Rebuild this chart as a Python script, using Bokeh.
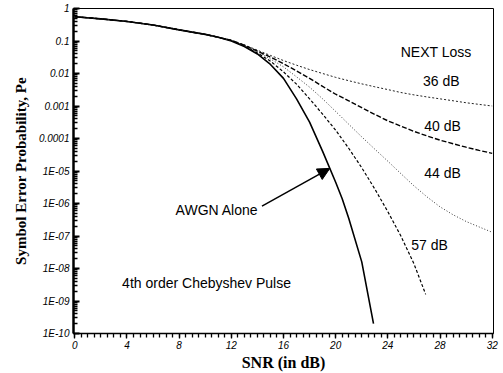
import numpy as np
from bokeh.plotting import figure
from bokeh.models import (Range1d, FixedTicker, SingleIntervalTicker, Arrow, NormalHead,
                          Label, CustomJSTickFormatter)
from bokeh.embed import file_html
from bokeh.resources import INLINE

# ---------------- data ----------------
snr_awgn = [0, 2, 4, 6, 8, 10, 11, 12, 13, 14, 15, 16, 17, 18, 19, 20, 20.5, 21, 22, 22.9]
pe_awgn = [0.56, 0.48, 0.40, 0.31, 0.22, 0.16, 0.13, 0.10, 0.068, 0.040, 0.019, 7.1e-3,
           1.66e-3, 3.2e-4, 4.0e-5, 4.5e-6, 1.4e-6, 3.5e-7, 1.6e-8, 2.0e-10]

snr_next = [0, 2, 4, 6, 8, 10, 11, 12, 13, 14, 15, 16, 17, 18, 19, 20, 21, 22, 23, 24, 25,
            26, 27, 28, 29, 30, 31, 32]
pe_36 = [0.56, 0.48, 0.40, 0.31, 0.22, 0.16, 0.13, 0.105, 0.076, 0.052, 0.036, 0.025, 0.018,
         0.0132, 0.010, 0.0076, 0.0060, 0.0048, 0.0039, 0.0032, 0.0026, 0.0022, 0.0019,
         0.00166, 0.00145, 0.00126, 0.00112, 0.0010]
pe_40 = [0.56, 0.48, 0.40, 0.31, 0.22, 0.16, 0.13, 0.105, 0.074, 0.049, 0.032, 0.020, 0.012,
         0.0071, 0.0040, 0.0023, 1.45e-3, 8.9e-4, 5.5e-4, 3.5e-4, 2.4e-4, 1.66e-4, 1.2e-4,
         8.9e-5, 6.9e-5, 5.4e-5, 4.3e-5, 3.5e-5]
pe_44 = [0.56, 0.48, 0.40, 0.31, 0.22, 0.16, 0.13, 0.105, 0.072, 0.047, 0.028, 0.016, 0.0079,
         0.0038, 0.00166, 6.8e-4, 2.75e-4, 1.12e-4, 4.7e-5, 2.0e-5, 8.3e-6, 3.5e-6, 1.6e-6,
         7.9e-7, 4.5e-7, 2.8e-7, 1.9e-7, 1.3e-7]

snr_57 = [0, 2, 4, 6, 8, 10, 11, 12, 13, 14, 15, 16, 17, 18, 19, 20, 21, 22, 23, 24, 25, 26, 26.9]
pe_57 = [0.56, 0.48, 0.40, 0.31, 0.22, 0.16, 0.13, 0.105, 0.069, 0.043, 0.024, 0.0112, 0.0047,
         0.00166, 5.6e-4, 1.8e-4, 5.0e-5, 1.26e-5, 2.8e-6, 5.6e-7, 1.0e-7, 1.4e-8, 1.6e-9]

y_ticks = [1, 0.1, 0.01, 0.001, 0.0001, 1e-5, 1e-6, 1e-7, 1e-8, 1e-9, 1e-10]
y_tick_labels = ["1", "0.1", "0.01", "0.001", "0.0001", "1E-05", "1E-06", "1E-07",
                 "1E-08", "1E-09", "1E-10"]

next_labels = ["36 dB", "40 dB", "44 dB", "57 dB"]

# ---------------- figure ----------------
p = figure(width=503, height=373, y_axis_type="log",
           x_range=Range1d(-0.1, 32.1), y_range=Range1d(1e-10, 1),
           output_backend="svg", toolbar_location=None,
           min_border_left=73, min_border_right=10, min_border_top=8, min_border_bottom=36,
           background_fill_color="white", border_fill_color="white")
p.xgrid.visible = False
p.ygrid.visible = False
p.outline_line_color = "black"
p.outline_line_width = 1

minor = [m * t for t in y_ticks[1:] for m in range(2, 10)]
p.yaxis.ticker = FixedTicker(ticks=y_ticks, minor_ticks=minor)
p.yaxis.formatter = CustomJSTickFormatter(args=dict(labels=y_tick_labels),
                                          code="return labels[Math.round(-Math.log10(tick))];")
p.xaxis.ticker = SingleIntervalTicker(interval=4, num_minor_ticks=8)

for ax in (p.xaxis[0], p.yaxis[0]):
    ax.major_label_text_font = "Liberation Sans"
    ax.major_label_text_font_style = "italic"
    ax.major_label_text_font_size = "10px"
    ax.major_label_text_color = "black"
    ax.axis_line_color = "black"
    ax.major_tick_line_color = "black"
    ax.minor_tick_line_color = "black"
    ax.axis_label_text_font = "Liberation Serif"
    ax.axis_label_text_font_style = "bold"
    ax.axis_label_text_color = "black"

p.xaxis.major_tick_in = 0
p.xaxis.major_tick_out = 5
p.xaxis.minor_tick_in = 0
p.xaxis.minor_tick_out = 4
p.xaxis.axis_line_width = 1.5
p.xaxis.major_tick_line_width = 1.3
p.xaxis.minor_tick_line_width = 1.3
p.xaxis.major_label_standoff = 2
p.xaxis.axis_label = "SNR (in dB)"
p.xaxis.axis_label_text_font_size = "16px"
p.xaxis.axis_label_standoff = 2

p.yaxis.major_tick_in = 6
p.yaxis.major_tick_out = 0
p.yaxis.minor_tick_in = 4
p.yaxis.minor_tick_out = 0
p.yaxis.axis_line_width = 2.5
p.yaxis.major_tick_line_width = 2
p.yaxis.minor_tick_line_width = 1.5
p.yaxis.major_label_standoff = 4
p.yaxis.axis_label = "Symbol Error Probability, Pe"
p.yaxis.axis_label_text_font_size = "15px"
p.yaxis.axis_label_standoff = 7

# ---------------- curves ----------------
p.line(snr_awgn, pe_awgn, line_color="black", line_width=1.6)
p.line(snr_next, pe_36, line_color="#222222", line_width=1.0, line_dash="2 2")
p.line(snr_next, pe_40, line_color="black", line_width=1.4, line_dash="5 2")
p.line(snr_next, pe_44, line_color="#222222", line_width=0.9, line_dash="1 2")
p.line(snr_57, pe_57, line_color="black", line_width=1.2, line_dash="3 2")

# ---------------- annotations ----------------
font = "Liberation Sans"
def lab(x, y, t, size="14px"):
    p.add_layout(Label(x=x, y=y, text=t, text_align="center", text_baseline="middle",
                       text_font=font, text_font_size=size, text_color="black"))

lab(27.7, 0.0457, "NEXT Loss")
lab(28.1, 5.9e-3, next_labels[0])
lab(28.2, 2.5e-4, next_labels[1])
lab(28.2, 8.5e-6, next_labels[2])
lab(27.2, 5.4e-8, next_labels[3])
lab(10.9, 6.3e-7, "AWGN Alone")
lab(10.1, 3.7e-9, "4th order Chebyshev Pulse")

tip_x = 19.55
tip_y = 10 ** np.interp(tip_x, snr_awgn, np.log10(pe_awgn))
p.add_layout(Arrow(end=NormalHead(size=12, fill_color="black", line_color="black"),
                   x_start=14.35, y_start=8.3e-7, x_end=tip_x, y_end=float(tip_y),
                   line_color="black", line_width=1.5))

open("out.html", "w").write(file_html(p, INLINE))
